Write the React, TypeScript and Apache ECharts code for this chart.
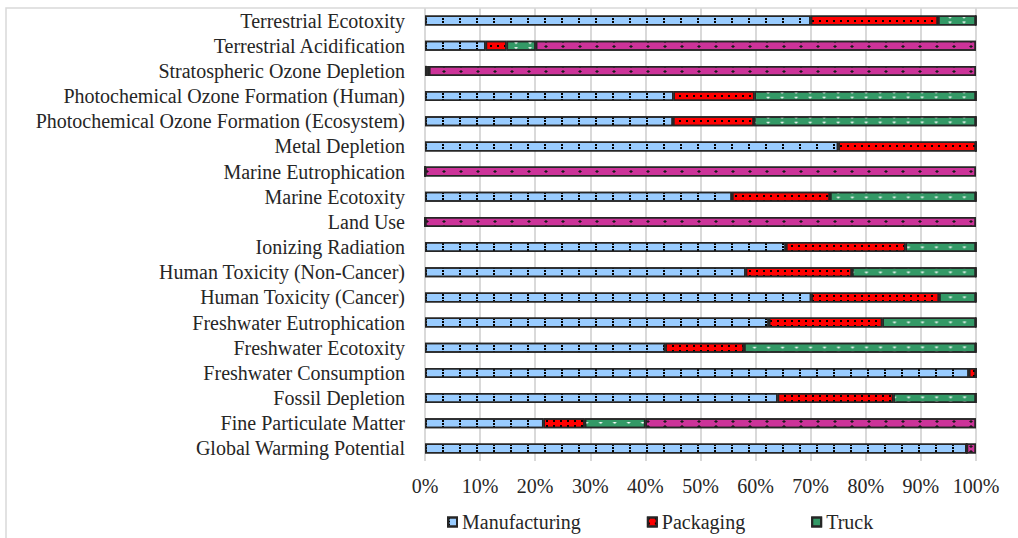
import React, { useEffect, useRef } from "react";
import * as echarts from "echarts";

const categories = [
  "Terrestrial Ecotoxity",
  "Terrestrial Acidification",
  "Stratospheric Ozone Depletion",
  "Photochemical Ozone Formation (Human)",
  "Photochemical Ozone Formation (Ecosystem)",
  "Metal Depletion",
  "Marine Eutrophication",
  "Marine Ecotoxity",
  "Land Use",
  "Ionizing Radiation",
  "Human Toxicity (Non-Cancer)",
  "Human Toxicity (Cancer)",
  "Freshwater Eutrophication",
  "Freshwater Ecotoxity",
  "Freshwater Consumption",
  "Fossil Depletion",
  "Fine Particulate Matter",
  "Global Warming Potential",
];

const manufacturing = [70, 11, 0.4, 45.1, 45, 75, 0, 55.7, 0, 65.5, 58.2, 70.1, 62.4, 43.6, 98.7, 64, 21.5, 98.3];
const packaging = [23.1, 3.8, 0.3, 14.7, 14.7, 25, 0, 17.8, 0, 21.7, 19.3, 23.2, 20.6, 14.3, 1.3, 21, 7.5, 0];
const truck = [6.9, 5.3, 0, 40.2, 40.3, 0, 0, 26.5, 0, 12.8, 22.5, 6.7, 17, 42.1, 0, 15, 11, 0];
const other = [0, 79.9, 99.3, 0, 0, 0, 100, 0, 100, 0, 0, 0, 0, 0, 0, 0, 60, 1.7];

const tickValues = [0, 10, 20, 30, 40, 50, 60, 70, 80, 90, 100];

const FONT = "'Liberation Serif', 'Times New Roman', serif";

export default function App() {
  const ref = useRef<HTMLDivElement>(null);
  useEffect(() => {
    document.body.style.margin = "0";
    if (!ref.current) return;
    const chart = echarts.init(ref.current, undefined, { renderer: "svg" });
    const border = "#262626";
    const mk = (name: string, data: number[], color: string, decal: any) => ({
      name,
      type: "bar",
      stack: "total",
      data,
      barWidth: 10,
      itemStyle: { color, borderColor: border, borderWidth: 1.5, decal },
      emphasis: { disabled: true },
    });
    chart.setOption({
      animation: false,
      backgroundColor: "#ffffff",
      grid: { left: 425, right: 42, top: 8, bottom: 77, containLabel: false },
      xAxis: {
        type: "value",
        min: tickValues[0],
        max: tickValues[tickValues.length - 1],
        interval: 10,
        axisLine: { show: false },
        axisTick: { show: false },
        splitLine: { show: true, lineStyle: { color: "#d9d9d9", width: 2 } },
        axisLabel: {
          formatter: "{value}%",
          color: "#262626",
          fontFamily: FONT,
          fontSize: 20,
          margin: 15,
        },
      },
      yAxis: {
        type: "category",
        inverse: true,
        data: categories,
        axisLine: { show: false },
        axisTick: { show: false },
        axisLabel: {
          interval: 0,
          color: "#262626",
          fontFamily: FONT,
          fontSize: 20,
          margin: 20,
        },
      },
      legend: {
        data: ["Manufacturing", "Packaging", "Truck"],
        left: 447,
        top: 512,
        padding: 0,
        icon: "rect",
        itemWidth: 9,
        itemHeight: 9,
        itemGap: 66,
        textStyle: { color: "#262626", fontFamily: FONT, fontSize: 20 },
        selectedMode: false,
      },
      graphic: [
        {
          type: "rect",
          shape: { x: 6, y: 8, width: 1030, height: 540 },
          style: { fill: "none", stroke: "#d9d9d9", lineWidth: 1.5 },
          silent: true,
          z: -10,
        },
      ],
      series: [
        mk("Manufacturing", manufacturing, "#99CCFF", {
          symbol: "rect",
          symbolSize: 1,
          color: "#000000",
          dashArrayX: [2, 15],
          dashArrayY: [2, 1],
        }),
        mk("Packaging", packaging, "#FF0000", {
          symbol: "rect",
          symbolSize: 1,
          color: "#000000",
          dashArrayX: [2, 5],
          dashArrayY: [2, 3],
        }),
        mk("Truck", truck, "#339966", {
          symbol: "triangle",
          symbolSize: 1,
          color: "#ffffff",
          dashArrayX: [4, 10],
          dashArrayY: [2, 3],
          rotation: 3.14,
        }),
        mk("Other", other, "#CC3399", {
          symbol: "diamond",
          symbolSize: 1,
          color: "#1a1a1a",
          dashArrayX: [4, 13],
          dashArrayY: [3, 2],
        }),
      ],
    });
    return () => chart.dispose();
  }, []);
  return <div ref={ref} style={{ width: 1018, height: 538 }} />;
}
